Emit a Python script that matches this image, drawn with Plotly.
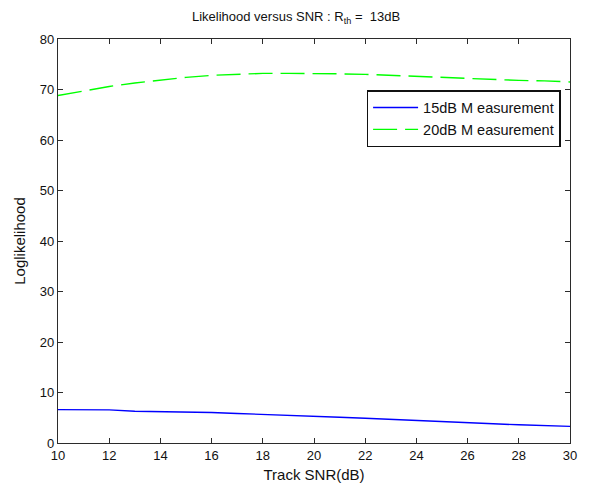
import plotly.graph_objects as go

# Track SNR values (dB)
snr = list(range(10, 31))

# Log-likelihood for the 15 dB measurement
loglik_15db = [6.6, 6.6, 6.55, 6.3, 6.25, 6.2, 6.05, 5.85, 5.7, 5.5, 5.3,
               5.1, 4.9, 4.65, 4.45, 4.2, 4.0, 3.8, 3.6, 3.45, 3.3]

# Log-likelihood for the 20 dB measurement
loglik_20db = [68.8, 69.7, 70.6, 71.3, 71.9, 72.4, 72.8, 73.0, 73.2, 73.2, 73.2,
               73.1, 73.0, 72.8, 72.6, 72.3, 72.1, 71.9, 71.8, 71.7, 71.5]

x_ticks = list(range(10, 31, 2))
y_ticks = list(range(0, 81, 10))

FONT = "Liberation Sans, Arial, sans-serif"
INK = "#111111"

fig = go.Figure()
fig.add_trace(go.Scatter(
    x=snr, y=loglik_15db, mode="lines", name="15dB M easurement",
    line=dict(color="#0000ff", width=1.4),
))
fig.add_trace(go.Scatter(
    x=snr, y=loglik_20db, mode="lines", name="20dB M easurement",
    line=dict(color="#00ff00", width=1.4, dash="24px,8px"),
))

axis_common = dict(
    showgrid=False, zeroline=False, automargin=False,
    showline=True, linecolor="#2b2b2b", linewidth=1.3,
    mirror="ticks", ticks="inside", ticklen=5, tickwidth=1,
    tickcolor="#2b2b2b",
    tickfont=dict(family=FONT, size=13, color=INK),
)

fig.update_layout(
    width=592, height=484,
    margin=dict(l=58, r=22, t=39, b=41),
    paper_bgcolor="white", plot_bgcolor="white",
    font=dict(family=FONT, size=13, color=INK),
    title=dict(
        text="Likelihood versus SNR : R<sub>th</sub> =  13dB",
        x=0.5, xanchor="center", y=0.975, yanchor="top",
        font=dict(family=FONT, size=13, color=INK),
    ),
    xaxis=dict(
        range=[10, 30], tickvals=x_ticks,
        title=dict(text="Track SNR(dB)", standoff=7,
                   font=dict(family=FONT, size=15)),
        **axis_common,
    ),
    yaxis=dict(
        range=[0, 80], tickvals=y_ticks,
        title=dict(text="Loglikelihood", standoff=10,
                   font=dict(family=FONT, size=15)),
        **axis_common,
    ),
    legend=dict(
        x=0.982, xanchor="right", y=0.873, yanchor="top",
        bgcolor="white", bordercolor=INK, borderwidth=1.3,
        font=dict(family=FONT, size=14.5, color=INK),
        tracegroupgap=0, itemwidth=45,
    ),
    showlegend=True,
)

fig.write_html("out.html")
